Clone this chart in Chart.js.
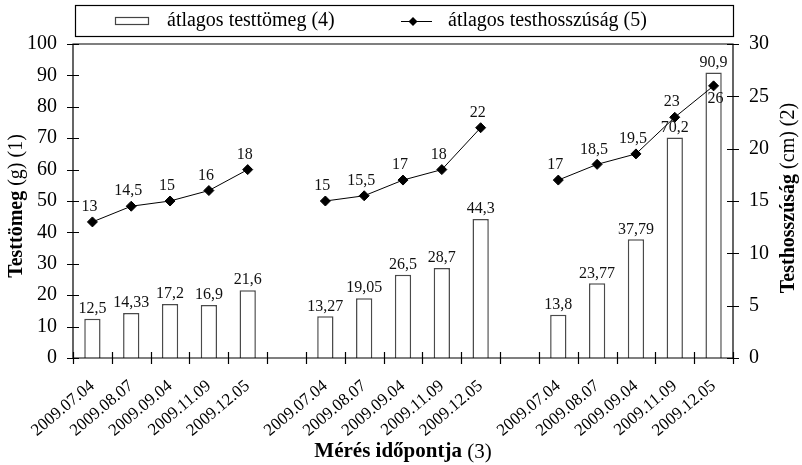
<!DOCTYPE html>
<html>
<head>
<meta charset="utf-8">
<script src="https://cdn.jsdelivr.net/npm/chart.js@4"></script>
<style>
  body { margin: 0; background: #fff; }
  #wrap { width: 802px; height: 465px; }
</style>
</head>
<body>
<div id="wrap"><canvas id="c" width="802" height="465"></canvas></div>
<script>
// measurement dates, three groups with an empty slot between them
const dates = ['2009.07.04', '2009.08.07', '2009.09.04', '2009.11.09', '2009.12.05'];
const categories = [...dates, '', ...dates, '', ...dates];

// average body mass (g) - bars, left axis
const massValues = [12.5, 14.33, 17.2, 16.9, 21.6, null, 13.27, 19.05, 26.5, 28.7, 44.3, null, 13.8, 23.77, 37.79, 70.2, 90.9];
// average body length (cm) - line, right axis
const lengthValues = [13, 14.5, 15, 16, 18, null, 15, 15.5, 17, 18, 22, null, 17, 18.5, 19.5, 23, 26];

const leftTicks = [0, 10, 20, 30, 40, 50, 60, 70, 80, 90, 100];
const rightTicks = [0, 5, 10, 15, 20, 25, 30];

const SERIF = '"Liberation Serif", "DejaVu Serif", serif';
const fmt = v => String(v).replace('.', ',');

// axis frame, crossing tick marks, value labels, titles and legend
const decor = {
  id: 'decor',
  afterDatasetsDraw(chart) {
    const {ctx, chartArea: a, scales} = chart;
    ctx.save();
    ctx.strokeStyle = '#000';
    ctx.lineWidth = 1.2;
    ctx.beginPath();
    ctx.rect(a.left, a.top, a.right - a.left, a.bottom - a.top);
    ctx.stroke();

    ctx.beginPath();
    scales.y.ticks.forEach((t, i) => {
      const y = Math.round(scales.y.getPixelForTick(i)) + 0.5;
      ctx.moveTo(a.left - 6, y); ctx.lineTo(a.left + 6, y);
    });
    scales.y1.ticks.forEach((t, i) => {
      const y = Math.round(scales.y1.getPixelForTick(i)) + 0.5;
      ctx.moveTo(a.right - 6, y); ctx.lineTo(a.right + 6, y);
    });
    const n = categories.length;
    for (let i = 0; i <= n; i++) {
      let x;
      if (i === 0) x = a.left;
      else if (i === n) x = a.right;
      else x = (scales.x.getPixelForValue(i - 1) + scales.x.getPixelForValue(i)) / 2;
      x = Math.round(x) + 0.5;
      ctx.moveTo(x, a.bottom - 6); ctx.lineTo(x, a.bottom + 6);
    }
    ctx.stroke();

    // value labels
    ctx.fillStyle = '#111';
    ctx.font = '16px ' + SERIF;
    ctx.textAlign = 'center';
    ctx.textBaseline = 'bottom';
    chart.getDatasetMeta(0).data.forEach((el, i) => {
      if (massValues[i] == null) return;
      ctx.fillText(fmt(massValues[i]), el.x, el.y - 2);
    });
    chart.getDatasetMeta(1).data.forEach((el, i) => {
      if (lengthValues[i] == null) return;
      if (i === lengthValues.length - 1) {
        ctx.textBaseline = 'top';
        ctx.fillText(fmt(lengthValues[i]), el.x + 2, el.y + 5);
        ctx.textBaseline = 'bottom';
      } else {
        ctx.fillText(fmt(lengthValues[i]), el.x - 3, el.y - 7);
      }
    });

    // axis titles with bold + normal parts
    const mixed = (bold, normal, size) => {
      ctx.font = 'bold ' + size + 'px ' + SERIF;
      const wb = ctx.measureText(bold).width;
      ctx.font = size + 'px ' + SERIF;
      const wn = ctx.measureText(normal).width;
      const start = -(wb + wn) / 2;
      ctx.textAlign = 'left';
      ctx.textBaseline = 'middle';
      ctx.font = 'bold ' + size + 'px ' + SERIF;
      ctx.fillText(bold, start, 0);
      ctx.font = size + 'px ' + SERIF;
      ctx.fillText(normal, start + wb, 0);
    };
    ctx.fillStyle = '#000';
    const midY = (a.top + a.bottom) / 2;
    ctx.save(); ctx.translate(17, midY + 5); ctx.rotate(-Math.PI / 2);
    mixed('Testtömeg', ' (g) (1)', 20); ctx.restore();
    ctx.save(); ctx.translate(789, midY - 3); ctx.rotate(-Math.PI / 2);
    mixed('Testhosszúság', ' (cm) (2)', 20); ctx.restore();
    ctx.save(); ctx.translate((a.left + a.right) / 2, 452);
    mixed('Mérés időpontja', ' (3)', 21); ctx.restore();

    // legend box
    ctx.lineWidth = 1.2;
    ctx.strokeStyle = '#000';
    ctx.strokeRect(75.5, 5.5, a.right - 75, 31);
    ctx.strokeStyle = '#444';
    ctx.strokeRect(115.5, 17.5, 33, 7);
    ctx.font = '20px ' + SERIF;
    ctx.textAlign = 'left';
    ctx.textBaseline = 'middle';
    ctx.fillStyle = '#000';
    ctx.fillText('átlagos testtömeg (4)', 167, 21);
    ctx.strokeStyle = '#000';
    ctx.lineWidth = 1;
    ctx.beginPath(); ctx.moveTo(401, 21.5); ctx.lineTo(432, 21.5); ctx.stroke();
    ctx.beginPath();
    ctx.moveTo(413, 17); ctx.lineTo(417.5, 21.5); ctx.lineTo(413, 26); ctx.lineTo(408.5, 21.5);
    ctx.closePath(); ctx.fill();
    ctx.fillText('átlagos testhosszúság (5)', 448, 21);
    ctx.restore();
  }
};

new Chart(document.getElementById('c'), {
  data: {
    labels: categories,
    datasets: [
      {
        type: 'bar',
        label: 'átlagos testtömeg (4)',
        data: massValues,
        yAxisID: 'y',
        backgroundColor: '#fff',
        borderColor: '#4a4a4a',
        borderWidth: 1.5,
        categoryPercentage: 1,
        barPercentage: 0.42,
        order: 2
      },
      {
        type: 'line',
        label: 'átlagos testhosszúság (5)',
        data: lengthValues,
        yAxisID: 'y1',
        borderColor: '#000',
        borderWidth: 1,
        backgroundColor: '#000',
        pointStyle: 'rectRot',
        pointRadius: 5,
        pointBackgroundColor: '#000',
        spanGaps: false,
        tension: 0,
        order: 1
      }
    ]
  },
  options: {
    responsive: false,
    animation: false,
    layout: { padding: { top: 44, left: 0, right: 0, bottom: 0 } },
    plugins: { legend: { display: false }, tooltip: { enabled: false } },
    scales: {
      x: {
        offset: true,
        grid: { display: false },
        border: { display: false },
        ticks: {
          autoSkip: false,
          minRotation: 40,
          maxRotation: 40,
          padding: 10,
          color: '#000',
          font: { family: SERIF, size: 17 }
        },
        afterFit: s => { s.height = 107; }
      },
      y: {
        position: 'left',
        min: 0,
        max: 100,
        afterBuildTicks: s => { s.ticks = leftTicks.map(v => ({ value: v })); },
        grid: { display: false },
        border: { display: false },
        ticks: { padding: 8, color: '#000', font: { family: SERIF, size: 20 } },
        afterFit: s => { s.width = 73; }
      },
      y1: {
        position: 'right',
        min: 0,
        max: 30,
        afterBuildTicks: s => { s.ticks = rightTicks.map(v => ({ value: v })); },
        grid: { display: false },
        border: { display: false },
        ticks: { padding: 8, color: '#000', font: { family: SERIF, size: 20 } },
        afterFit: s => { s.width = 69; }
      }
    }
  },
  plugins: [decor]
});
</script>
</body>
</html>
